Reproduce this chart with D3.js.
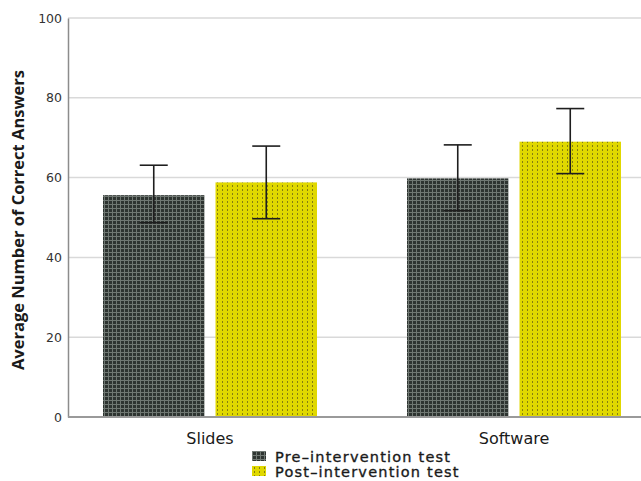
<!DOCTYPE html>
<html>
<head>
<meta charset="utf-8">
<script src="https://cdn.jsdelivr.net/npm/d3@7"></script>
<style>
  html, body { margin: 0; padding: 0; background: #fff; }
  svg { display: block; }
</style>
</head>
<body>
<svg id="chart" width="641" height="481"></svg>
<script>
// Mean correct answers per teaching method, before and after the intervention
const categories = ["Slides", "Software"];
const seriesNames = ["Pre–intervention test", "Post–intervention test"];
const preMeans  = [55.6, 59.8];
const postMeans = [58.8, 69.0];
// 95% CI bounds for each bar
const preLow   = [48.7, 51.7];
const preHigh  = [63.1, 68.2];
const postLow  = [49.7, 61.0];
const postHigh = [67.9, 77.3];
const yTicks = [0, 20, 40, 60, 80, 100];

const rows = [];
categories.forEach((c, i) => {
  rows.push({ cat: c, series: 0, mean: preMeans[i],  lo: preLow[i],  hi: preHigh[i] });
  rows.push({ cat: c, series: 1, mean: postMeans[i], lo: postLow[i], hi: postHigh[i] });
});

const svg = d3.select("#chart");
const plotLeft = 68, plotTop = 18, plotBottom = 417, plotRight = 641;

const y = d3.scaleLinear().domain([0, 100]).range([plotBottom, plotTop]);
const x0 = d3.scaleBand().domain(categories).range([58, 666]).padding(0);
const x1 = d3.scaleBand().domain([0, 1]).range([0, x0.bandwidth()])
  .paddingInner(0.098).paddingOuter(0.4);

// Fill patterns for the two series
const defs = svg.append("defs");
const pPre = defs.append("pattern").attr("id", "patPre")
  .attr("patternUnits", "userSpaceOnUse").attr("width", 4).attr("height", 4);
pPre.append("rect").attr("width", 4).attr("height", 4).attr("fill", "#2e3431");
pPre.append("rect").attr("x", 0).attr("y", 0).attr("width", 4).attr("height", 1).attr("fill", "#707873");
pPre.append("rect").attr("x", 0).attr("y", 0).attr("width", 1).attr("height", 4).attr("fill", "#707873");

const pPost = defs.append("pattern").attr("id", "patPost")
  .attr("patternUnits", "userSpaceOnUse").attr("width", 5).attr("height", 4);
pPost.append("rect").attr("width", 5).attr("height", 4).attr("fill", "#e0d800");
pPost.append("rect").attr("x", 2).attr("y", 1).attr("width", 1).attr("height", 2).attr("fill", "#857f10");

// Gridlines
svg.append("g").selectAll("line").data(yTicks.filter(t => t > 0)).join("line")
  .attr("x1", plotLeft).attr("x2", plotRight)
  .attr("y1", d => y(d)).attr("y2", d => y(d))
  .attr("stroke", "#d9d9d9").attr("stroke-width", 1.5);

// Y axis
const yAxis = svg.append("g").attr("transform", `translate(${plotLeft},0)`)
  .call(d3.axisLeft(y).tickValues(yTicks).tickSize(0).tickPadding(6));
yAxis.select(".domain").attr("stroke", "#8c8c8c").attr("stroke-width", 1.5);
yAxis.selectAll("text")
  .attr("font-family", "DejaVu Sans, sans-serif").attr("font-size", 12.5)
  .attr("fill", "#333");

// Bars
const color = s => s === 0 ? "url(#patPre)" : "url(#patPost)";
svg.append("g").selectAll("rect").data(rows).join("rect")
  .attr("x", d => x0(d.cat) + x1(d.series))
  .attr("width", x1.bandwidth())
  .attr("y", d => y(d.mean))
  .attr("height", d => y(0) - y(d.mean))
  .attr("fill", d => color(d.series));

// Baseline
svg.append("line").attr("x1", plotLeft).attr("x2", plotRight)
  .attr("y1", y(0)).attr("y2", y(0))
  .attr("stroke", "#9a9a9a").attr("stroke-width", 2);

// Error bars
const capW = 28;
const eb = svg.append("g").attr("stroke", "#1e1e1e").attr("stroke-width", 1.6);
rows.forEach(d => {
  const cx = x0(d.cat) + x1(d.series) + x1.bandwidth() / 2;
  eb.append("line").attr("x1", cx).attr("x2", cx).attr("y1", y(d.lo)).attr("y2", y(d.hi));
  eb.append("line").attr("x1", cx - capW / 2).attr("x2", cx + capW / 2).attr("y1", y(d.hi)).attr("y2", y(d.hi));
  eb.append("line").attr("x1", cx - capW / 2).attr("x2", cx + capW / 2).attr("y1", y(d.lo)).attr("y2", y(d.lo));
});

// Category labels
svg.append("g").selectAll("text").data(categories).join("text")
  .attr("x", d => x0(d) + x0.bandwidth() / 2)
  .attr("y", 444)
  .attr("text-anchor", "middle")
  .attr("font-family", "DejaVu Sans, sans-serif").attr("font-size", 16)
  .attr("fill", "#1a1a1a")
  .text(d => d);

// Y axis title
svg.append("text")
  .attr("transform", `translate(24,${220}) rotate(-90)`)
  .attr("text-anchor", "middle")
  .attr("font-family", "Open Sans, sans-serif").attr("font-weight", "bold").attr("font-size", 16.5)
  .attr("fill", "#1a1a1a")
  .text("Average Number of Correct Answers");

// Legend
const legend = svg.append("g").attr("transform", "translate(252,451)");
seriesNames.forEach((name, i) => {
  const g = legend.append("g").attr("transform", `translate(0,${i * 15})`);
  g.append("rect").attr("width", 14).attr("height", 10).attr("fill", color(i));
  g.append("text").attr("x", 23).attr("y", 11)
    .attr("font-family", "DejaVu Sans, sans-serif").attr("font-size", 14.5)
    .attr("letter-spacing", 1.2)
    .attr("fill", "#1a1a1a")
    .attr("stroke", "#1a1a1a").attr("stroke-width", 0.35)
    .text(name);
});
</script>
</body>
</html>
